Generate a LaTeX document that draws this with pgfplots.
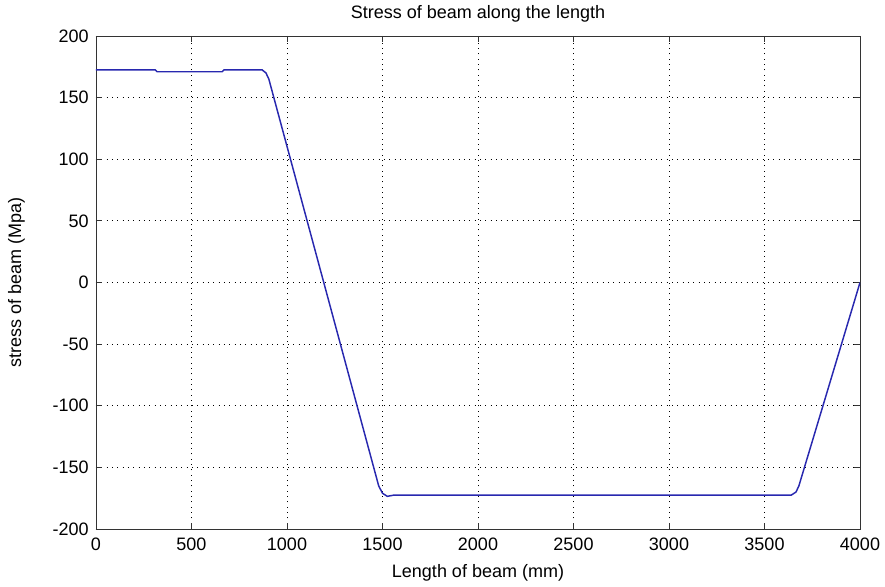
\documentclass[border=0pt]{standalone}
\usepackage{fontspec}
\setmainfont{Liberation Sans}
\usepackage{pgfplots}
\pgfplotsset{compat=1.18}

\definecolor{linecol}{RGB}{40,40,175}

\begin{document}
\begin{tikzpicture}[x=0.75pt,y=0.75pt]
\begin{axis}[
    scale only axis,
    width=573pt, height=369.75pt,
    xmin=0, xmax=4000, ymin=-200, ymax=200,
    xtick={0,500,...,4000},
    ytick={-200,-150,...,200},
    grid=major,
    major grid style={black, densely dotted, line width=0.6pt, dash pattern=on 0.8pt off 3.2pt},
    tick align=inside,
    tick pos=both,
    major tick length=4.5pt,
    axis line style={black!80, line width=0.6pt},
    tick style={black!80, line width=0.6pt},
    /pgf/number format/assume math mode=true,
    /pgf/number format/1000 sep={},
    ticklabel style={font=\fontsize{13.5}{15}\selectfont},
    xticklabel style={yshift=-3pt},
    yticklabel style={xshift=-2pt},
    label style={font=\fontsize{13.5}{15}\selectfont},
    title style={font=\fontsize{13.5}{15}\selectfont, yshift=1pt},
    title={Stress of beam along the length},
    xlabel={Length of beam (mm)},
    ylabel={stress of beam (Mpa)},
    xlabel style={yshift=-4pt},
    ylabel style={yshift=14pt},
]
\addplot[linecol, line width=1.1pt] coordinates {
    (0,172.5) (310,172.5) (320,171) (660,171) (670,172.5)
    (870,172.5) (890,170) (905,165)
    (1480,-165) (1500,-171) (1525,-173.5) (1560,-172.5)
    (3640,-172.5) (3665,-170) (3680,-165)
    (4000,0)
};
\end{axis}
\path (current axis.south west) ++(-96,-56) coordinate (bbsw);
\path (current axis.north east) ++(25,36) coordinate (bbne);
\useasboundingbox (bbsw) rectangle (bbne);
\end{tikzpicture}
\end{document}
